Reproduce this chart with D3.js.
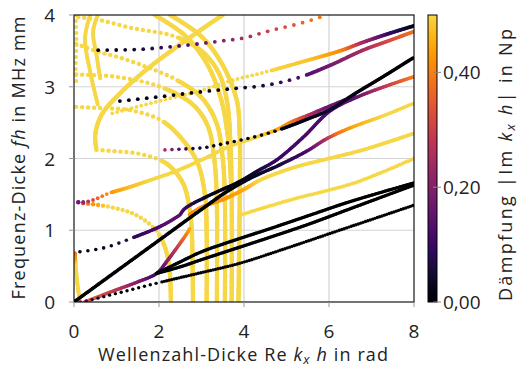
<!DOCTYPE html>
<html>
<head>
<meta charset="utf-8">
<script src="https://cdn.jsdelivr.net/npm/d3@7"></script>
<style>
body { margin: 0; background: #fff; }
text { font-family: "Open Sans", sans-serif; fill: #222; }
</style>
</head>
<body>
<svg id="chart" width="521" height="369"></svg>
<script>
// axis ticks
var xTicks = [0, 2, 4, 6, 8];
var yTicks = [0, 1, 2, 3, 4];
var cbTicks = [0, 0.2, 0.4];

// dispersion branches: [Re kx h, f h, |Im kx h|]
var modeOrigin = [[0,0,0],[1,0.43,0],[2,0.86,0],[3,1.29,0],[3.6,1.54,0.01],[4.2,1.74,0.03],[4.8,1.9,0.06],[5.47,2.1,0.12],[5.9,2.26,0.25],[6.2,2.35,0.38],[6.6,2.45,0.45],[7.3,2.6,0.5],[8,2.77,0.5]];
var modeLow07 = [[0.14,0.70,0.02],[0.5,0.73,0.02],[0.8,0.77,0.03],[1.36,0.89,0.08],[2.02,1.05,0.13],[2.38,1.17,0.15],[2.5,1.22,0.14],[2.57,1.28,0.12],[2.7,1.34,0.08],[3.2,1.49,0.03],[3.9,1.68,0.01],[4.3,1.82,0.05],[4.77,1.98,0.1],[5.4,2.3,0.12],[6.02,2.66,0.13],[6.6,2.84,0.15],[7.3,3.0,0.28],[8,3.14,0.4]];
var modeMid21 = [[2.14,2.12,0.25],[2.5,2.13,0.12],[3.04,2.15,0.04],[3.55,2.21,0.02],[4.1,2.28,0.02],[4.73,2.38,0.02],[5.5,2.55,0.02],[6.02,2.68,0.05],[6.6,2.9,0.02],[7.3,3.15,0],[8,3.41,0]];
var modeMid14 = [[0.1,1.39,0.18],[0.3,1.40,0.25],[0.49,1.43,0.35],[0.8,1.51,0.42],[1.3,1.6,0.47],[1.8,1.7,0.5],[2.38,1.82,0.5],[3.0,1.98,0.5],[3.7,2.18,0.5],[4.3,2.3,0.5],[4.8,2.41,0.45],[5.12,2.51,0.4],[5.5,2.6,0.28],[5.9,2.7,0.18],[6.6,2.87,0.15]];
var modeUp28 = [[1.08,2.8,0.02],[2,2.86,0.02],[3,2.93,0.02],[3.67,2.97,0.03],[4.5,3.02,0.06],[5.3,3.13,0.12],[6.03,3.30,0.18],[6.8,3.51,0.25],[7.4,3.64,0.32],[8,3.77,0.38]];
var modeUp27 = [[0.9,2.63,0.5],[2,2.8,0.5],[3,2.95,0.5],[3.67,3.08,0.5],[4.6,3.22,0.5],[5.5,3.37,0.48],[6.26,3.50,0.42],[6.8,3.62,0.25],[7.4,3.74,0.1],[8,3.85,0.02]];
var modeTop35 = [[0.57,3.51,0.02],[1.5,3.52,0.05],[2.5,3.57,0.12],[3.5,3.64,0.2],[4.0,3.68,0.25],[4.6,3.78,0.3],[5.3,3.88,0.35],[5.95,4.0,0.4]];
var modeKink = [[2.72,1.22,0.42],[3.0,1.32,0.42],[3.55,1.44,0.42],[4.0,1.57,0.45],[4.38,1.70,0.5],[5.2,1.88,0.5],[6.0,2.0,0.5],[6.8,2.12,0.5],[8,2.35,0.5]];
var modeSteep = [[0.25,0.0,0.35],[0.6,0.08,0.33],[1.0,0.17,0.28],[1.5,0.28,0.2],[1.95,0.4,0.1],[2.2,0.58,0.2],[2.45,0.78,0.3],[2.65,0.95,0.4],[2.73,1.03,0.45]];
var modeY12 = [[3.9,1.21,0.5],[4.5,1.32,0.5],[5.2,1.44,0.5],[6.0,1.56,0.5],[6.6,1.66,0.5],[7.3,1.82,0.5],[8,2.0,0.5]];
var modeFanA = [[1.95,0.4,0],[2.5,0.56,0],[3.0,0.7,0],[3.67,0.84,0],[4.6,1.02,0],[5.5,1.2,0],[6.5,1.4,0],[8,1.66,0]];
var modeFanB = [[1.95,0.4,0],[2.5,0.49,0],[3.0,0.59,0],[3.67,0.72,0],[4.6,0.9,0],[5.5,1.08,0],[6.5,1.3,0],[8,1.63,0]];
var modeSlow = [[0.15,0,0.2],[0.4,0.03,0.05],[1,0.12,0],[2,0.27,0],[3,0.41,0],[3.9,0.54,0],[5,0.75,0],[6,0.95,0],[7,1.15,0],[8,1.35,0]];
var modeCorner = [[0.02,0.68,0.38],[0.04,0.5,0.5],[0.08,0.25,0.5],[0.14,0,0.5]];
var arcA = [[0.1,1.39,0.18],[0.34,1.37,0.4],[0.8,1.33,0.5],[1.36,1.24,0.5],[1.75,1.1,0.5],[1.98,0.96,0.5],[2.15,0.75,0.5],[2.24,0.5,0.5],[2.27,0.25,0.5],[2.28,0,0.5]];
var arcBig = [[3.5,4.0,0.5],[3.0,3.8,0.5],[2.38,3.54,0.5],[1.75,3.26,0.5],[1.12,2.93,0.5],[0.65,2.61,0.5],[0.5,2.33,0.5],[0.53,2.12,0.5]];
var arcLow = [[0.53,2.12,0.5],[1.0,2.1,0.5],[1.5,2.07,0.5],[2.02,1.98,0.5],[2.26,1.89,0.5],[2.57,1.65,0.5],[2.72,1.3,0.5],[2.77,1.0,0.5],[2.79,0.5,0.5],[2.8,0,0.5]];
var arcD1 = [[0.1,3.97,0.5],[0.6,3.93,0.5],[1.35,3.82,0.5],[2.38,3.70,0.5],[3.0,3.5,0.5],[3.4,3.2,0.5],[3.6,2.8,0.5],[3.68,2.2,0.5],[3.71,1.5,0.5],[3.71,0,0.5]];
var arcD2 = [[0.05,3.6,0.5],[0.5,3.5,0.5],[1.0,3.42,0.5],[1.6,3.3,0.5],[2.4,3.1,0.5],[3.0,2.85,0.5],[3.35,2.5,0.5],[3.5,2.0,0.5],[3.55,1.4,0.5],[3.55,0,0.5]];
var arcD3 = [[0.05,3.17,0.5],[0.97,3.14,0.5],[2.03,3.0,0.5],[2.8,2.75,0.5],[3.15,2.45,0.5],[3.3,2.0,0.5],[3.36,1.4,0.5],[3.36,0,0.5]];
var arcD4 = [[0.05,2.72,0.5],[0.7,2.70,0.5],[1.26,2.68,0.5],[2.03,2.54,0.5],[2.5,2.3,0.5],[2.9,1.95,0.5],[3.08,1.5,0.5],[3.12,1.0,0.5],[3.12,0,0.5]];
var arcT1 = [[2.26,4.0,0.5],[3.0,3.7,0.5],[3.5,3.3,0.5],[3.83,2.81,0.5],[3.9,2.3,0.5],[3.9,1.5,0.5],[3.87,0,0.5]];
var arcT2 = [[1.9,4.0,0.5],[2.6,3.72,0.5],[3.1,3.35,0.5],[3.45,2.85,0.5],[3.62,2.3,0.5],[3.7,1.6,0.5]];
var wiggle1 = [[0.04,4.0,0.5],[0.06,3.6,0.5],[0.04,3.3,0.5],[0.06,3.0,0.5]];
var wiggle2 = [[0.38,4.0,0.5],[0.26,3.68,0.5],[0.38,3.21,0.5],[0.56,2.75,0.5]];
var wiggle3 = [[0.56,4.0,0.5],[0.45,3.77,0.5],[0.53,3.44,0.5],[0.62,3.1,0.5]];

// drawing order, marker size and spacing (sparse part up to index "sparseTo")
var layers = [
  {pts: arcBig, gap: 1.2, r: 2.2},
  {pts: arcLow, gap: 1.2, r: 2.2, sparseTo: 3, sparseGap: 6},
  {pts: arcD1, gap: 1.2, r: 2.2, sparseTo: 3, sparseGap: 6},
  {pts: arcD2, gap: 1.2, r: 2.2, sparseTo: 4, sparseGap: 6},
  {pts: arcD3, gap: 1.2, r: 2.2, sparseTo: 2, sparseGap: 6},
  {pts: arcD4, gap: 1.2, r: 2.2, sparseTo: 3, sparseGap: 6},
  {pts: arcT1, gap: 1.2, r: 2.2},
  {pts: arcT2, gap: 1.2, r: 2.2},
  {pts: wiggle1, gap: 6, r: 2},
  {pts: wiggle2, gap: 1.5, r: 2},
  {pts: wiggle3, gap: 1.5, r: 2},
  {pts: arcA, gap: 1.2, r: 2.2, sparseTo: 5, sparseGap: 5},
  {pts: modeCorner, gap: 1.2, r: 2},
  {pts: modeY12, gap: 3, r: 2},
  {pts: modeKink, gap: 1.2, r: 1.9},
  {pts: modeUp27, gap: 1.2, r: 1.9, sparseTo: 4, sparseGap: 5},
  {pts: modeMid14, gap: 1.2, r: 1.9, sparseTo: 3, sparseGap: 5},
  {pts: modeTop35, gap: 9, r: 1.9},
  {pts: modeUp28, gap: 1.5, r: 1.9, sparseTo: 5, sparseGap: 9},
  {pts: modeSteep, gap: 1.2, r: 1.8},
  {pts: modeSlow, gap: 2.5, r: 1.7, sparseTo: 3, sparseGap: 6},
  {pts: modeFanA, gap: 1.2, r: 1.7},
  {pts: modeFanB, gap: 1.2, r: 1.7},
  {pts: modeOrigin, gap: 1.2, r: 1.8},
  {pts: modeLow07, gap: 1.2, r: 1.8, sparseTo: 3, sparseGap: 8},
  {pts: modeMid21, gap: 1.2, r: 1.8, sparseTo: 5, sparseGap: 7}
];

var svg = d3.select('#chart');
var L = 74, R = 414, T = 15, B = 302;

var x = d3.scaleLinear().domain([0, 8]).range([L, R]);
var y = d3.scaleLinear().domain([0, 4]).range([B, T]);
var cy = d3.scaleLinear().domain([0, 0.5]).range([B, T]);
function col(v) { return d3.interpolateInferno(0.9 * Math.min(v, 0.5) / 0.5); }

// grid
svg.append('g').selectAll('line').data(xTicks.slice(1, -1)).enter().append('line')
  .attr('x1', d => x(d)).attr('x2', d => x(d)).attr('y1', T).attr('y2', B)
  .attr('stroke', '#d3d3d3').attr('stroke-width', 1.2);
svg.append('g').selectAll('line').data(yTicks.slice(1, -1)).enter().append('line')
  .attr('y1', d => y(d)).attr('y2', d => y(d)).attr('x1', L).attr('x2', R)
  .attr('stroke', '#d3d3d3').attr('stroke-width', 1.2);

svg.append('defs').append('clipPath').attr('id', 'plotclip')
  .append('rect').attr('x', L).attr('y', T).attr('width', R - L).attr('height', B - T);

var plot = svg.append('g').attr('clip-path', 'url(#plotclip)');
var scratch = svg.append('g').style('visibility', 'hidden');

var lineGen = d3.line().x(p => x(p[0])).y(p => y(p[1])).curve(d3.curveCatmullRom.alpha(0.5));

// markers placed along each branch, coloured by damping
layers.forEach(function(layer) {
  var pts = layer.pts;
  var tmp = scratch.append('path').attr('d', lineGen(pts));
  var node = tmp.node(), len = node.getTotalLength();
  var cum = [0];
  for (var i = 1; i < pts.length; i++) {
    cum.push(cum[i - 1] + Math.hypot(x(pts[i][0]) - x(pts[i - 1][0]), y(pts[i][1]) - y(pts[i - 1][1])));
  }
  var total = cum[cum.length - 1];
  var sparseEnd = layer.sparseTo != null ? cum[layer.sparseTo] / total * len : -1;
  var marks = [];
  for (var s = 0; s <= len + 0.01; ) {
    var p = node.getPointAtLength(Math.min(s, len));
    var u = Math.min(s, len) / len * total, k = 0;
    while (k < cum.length - 2 && cum[k + 1] < u) k++;
    var t = (u - cum[k]) / Math.max(cum[k + 1] - cum[k], 1e-6);
    var dv = pts[k][2] + (pts[k + 1][2] - pts[k][2]) * Math.max(0, Math.min(1, t));
    marks.push({x: p.x, y: p.y, d: dv});
    s += (s < sparseEnd) ? layer.sparseGap : layer.gap;
  }
  tmp.remove();
  plot.append('g').selectAll('circle').data(marks).enter().append('circle')
    .attr('cx', m => m.x).attr('cy', m => m.y).attr('r', layer.r)
    .attr('fill', m => col(m.d));
});

// frame
svg.append('rect').attr('x', L).attr('y', T).attr('width', R - L).attr('height', B - T)
  .attr('fill', 'none').attr('stroke', '#000').attr('stroke-width', 1.1);

// ticks and labels
var xa = svg.append('g');
xa.selectAll('line').data(xTicks).enter().append('line')
  .attr('x1', d => x(d)).attr('x2', d => x(d)).attr('y1', B).attr('y2', B + 5)
  .attr('stroke', '#999');
xa.selectAll('text').data(xTicks).enter().append('text')
  .attr('x', d => x(d)).attr('y', B + 36).attr('text-anchor', 'middle')
  .style('font-size', '19px').text(d => d);

var ya = svg.append('g');
ya.selectAll('line').data(yTicks).enter().append('line')
  .attr('y1', d => y(d)).attr('y2', d => y(d)).attr('x1', L - 5).attr('x2', L)
  .attr('stroke', '#999');
ya.selectAll('text').data(yTicks).enter().append('text')
  .attr('x', L - 19).attr('y', d => y(d) + 7).attr('text-anchor', 'end')
  .style('font-size', '19px').text(d => d);

var xt = svg.append('text').attr('x', 243).attr('y', 361).attr('text-anchor', 'middle')
  .attr('textLength', 290).attr('lengthAdjust', 'spacing')
  .style('font-size', '18px');
xt.append('tspan').text('Wellenzahl-Dicke Re ');
xt.append('tspan').style('font-style', 'italic').text('k');
xt.append('tspan').style('font-style', 'italic').style('font-size', '13px').attr('dy', 3).text('x');
xt.append('tspan').style('font-style', 'italic').attr('dy', -3).text(' h');
xt.append('tspan').text(' in rad');

var yt = svg.append('text').attr('transform', 'translate(25,158) rotate(-90)')
  .attr('text-anchor', 'middle').attr('textLength', 283).attr('lengthAdjust', 'spacing')
  .style('font-size', '18px');
yt.append('tspan').text('Frequenz-Dicke ');
yt.append('tspan').style('font-style', 'italic').text('fh');
yt.append('tspan').text(' in MHz mm');

// colorbar
var CBX = 428, CBW = 9;
var grad = svg.select('defs').append('linearGradient').attr('id', 'cbgrad')
  .attr('x1', '0%').attr('y1', '100%').attr('x2', '0%').attr('y2', '0%');
grad.selectAll('stop').data(d3.range(0, 1.0001, 0.05)).enter().append('stop')
  .attr('offset', d => d).attr('stop-color', d => col(d * 0.5));
svg.append('rect').attr('x', CBX).attr('y', T).attr('width', CBW).attr('height', B - T)
  .attr('fill', 'url(#cbgrad)').attr('stroke', '#000').attr('stroke-width', 1);
var cb = svg.append('g');
cb.selectAll('line').data(cbTicks).enter().append('line')
  .attr('x1', CBX + CBW - 4).attr('x2', CBX + CBW + 4).attr('y1', d => cy(d)).attr('y2', d => cy(d))
  .attr('stroke', '#888');
cb.selectAll('text').data(cbTicks).enter().append('text')
  .attr('x', CBX + CBW + 6).attr('y', d => cy(d) + 7)
  .style('font-size', '19px').text(d => d3.format('.2f')(d).replace('.', ','));

var ct = svg.append('text').attr('transform', 'translate(512,165) rotate(-90)')
  .attr('text-anchor', 'middle').attr('textLength', 272).attr('lengthAdjust', 'spacing')
  .style('font-size', '18px');
ct.append('tspan').text('Dämpfung |Im ');
ct.append('tspan').style('font-style', 'italic').text('k');
ct.append('tspan').style('font-style', 'italic').style('font-size', '13px').attr('dy', 3).text('x');
ct.append('tspan').style('font-style', 'italic').attr('dy', -3).text(' h');
ct.append('tspan').text('| in Np');
</script>
</body>
</html>
